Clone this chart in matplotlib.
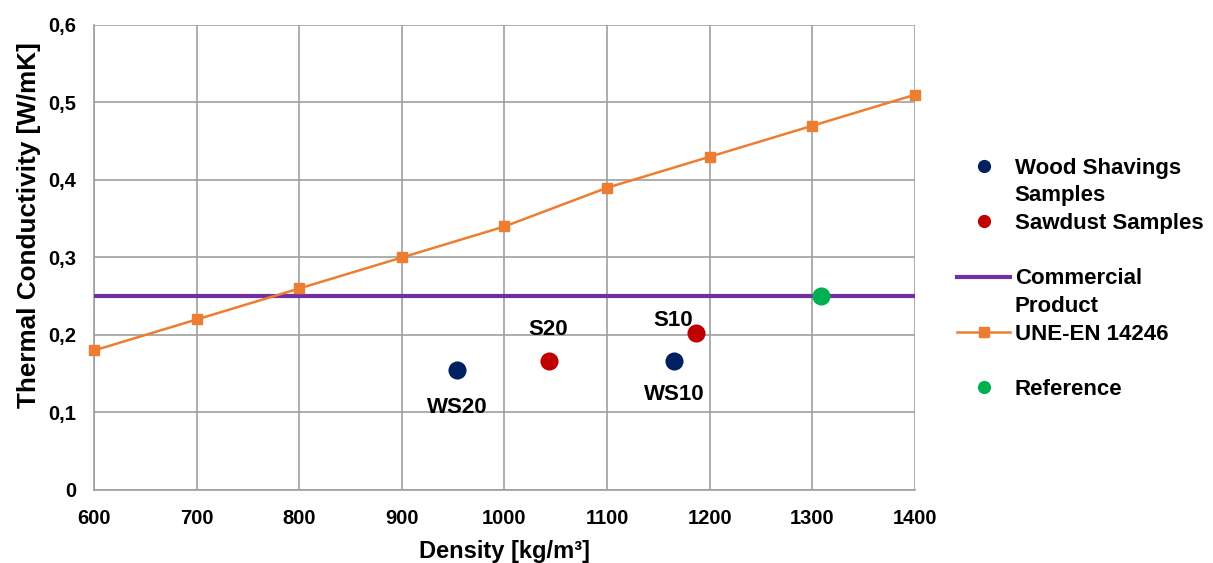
import numpy as np
import matplotlib.pyplot as plt
from matplotlib.lines import Line2D
from matplotlib.ticker import FuncFormatter

plt.rcParams['font.family'] = ['Liberation Sans', 'DejaVu Sans']
plt.rcParams['font.weight'] = 'bold'

# standard curve UNE-EN 14246
norm_density = [600, 700, 800, 900, 1000, 1100, 1200, 1300, 1400]
norm_lambda = [0.18, 0.22, 0.26, 0.30, 0.34, 0.39, 0.43, 0.47, 0.51]

# samples
ws_names = ['WS20', 'WS10']
ws_density = [954, 1165]
ws_lambda = [0.155, 0.166]

s_names = ['S20', 'S10']
s_density = [1043, 1187]
s_lambda = [0.166, 0.203]

ref_density = [1308]
ref_lambda = [0.25]

commercial_lambda = 0.25

navy = '#002060'
red = '#C00000'
green = '#00B050'
purple = '#7030A0'
orange = '#ED7D31'

fig = plt.figure(figsize=(12.13, 5.63), dpi=100)
ax = fig.add_axes([0.0775, 0.1297, 0.6768, 0.8259])

ax.set_xlim(600, 1400)
ax.set_ylim(0, 0.6)
ax.set_xticks(np.arange(600, 1401, 100))
ax.set_yticks(np.arange(0, 0.61, 0.1))
ax.yaxis.set_major_formatter(FuncFormatter(lambda v, p: '0' if abs(v) < 1e-9 else f'{v:.1f}'.replace('.', ',')))
ax.grid(True, color='#A0A0A0', lw=1.2)
ax.set_axisbelow(True)
for s in ['top', 'right']:
    ax.spines[s].set_visible(False)
for s in ['left', 'bottom']:
    ax.spines[s].set_color('#A0A0A0')
    ax.spines[s].set_linewidth(1.2)
ax.tick_params(length=0, labelsize=14.5)
ax.tick_params(axis='x', pad=14)
ax.tick_params(axis='y', pad=13)

ax.axhline(commercial_lambda, color=purple, lw=3, zorder=3)
ax.plot(norm_density, norm_lambda, color=orange, lw=1.8, marker='s', ms=6.5, zorder=4, clip_on=False)
ax.scatter(ws_density, ws_lambda, s=170, color=navy, zorder=5, linewidths=0)
ax.scatter(s_density, s_lambda, s=170, color=red, zorder=5, linewidths=0)
ax.scatter(ref_density, ref_lambda, s=170, color=green, zorder=5, linewidths=0)

lbl = dict(textcoords='offset points', ha='center', va='center', fontsize=16, fontweight='bold')
ax.annotate(ws_names[0], (ws_density[0], ws_lambda[0]), xytext=(0, -27), **lbl)
ax.annotate(ws_names[1], (ws_density[1], ws_lambda[1]), xytext=(0, -24), **lbl)
ax.annotate(s_names[0], (s_density[0], s_lambda[0]), xytext=(0, 23), **lbl)
ax.annotate(s_names[1], (s_density[1], s_lambda[1]), xytext=(-17, 9), **lbl)

ax.set_xlabel('Density [kg/m³]', fontsize=17, fontweight='bold', labelpad=8)
ax.set_ylabel('Thermal Conductivity [W/mK]', fontsize=18.8, fontweight='bold')
ax.yaxis.set_label_coords(-0.064, 0.57)

blank = Line2D([], [], ls='none')
handles = [
    Line2D([], [], ls='none', marker='o', color=navy, ms=8.5),
    blank,
    Line2D([], [], ls='none', marker='o', color=red, ms=8.5),
    blank,
    Line2D([], [], color=purple, lw=3),
    blank,
    Line2D([], [], color=orange, lw=1.8, marker='s', ms=6.5),
    blank,
    Line2D([], [], ls='none', marker='o', color=green, ms=8.5),
]
labels = ['Wood Shavings', 'Samples', 'Sawdust Samples', ' ', 'Commercial', 'Product', 'UNE-EN 14246', ' ', 'Reference']
fig.legend(handles, labels, loc='upper left', bbox_to_anchor=(0.789, 0.72), frameon=False,
           prop={'size': 16, 'weight': 'bold'}, handlelength=2.4, handletextpad=0.2,
           labelspacing=0.3, borderpad=0, borderaxespad=0)

fig.savefig('out.png', dpi=100)
